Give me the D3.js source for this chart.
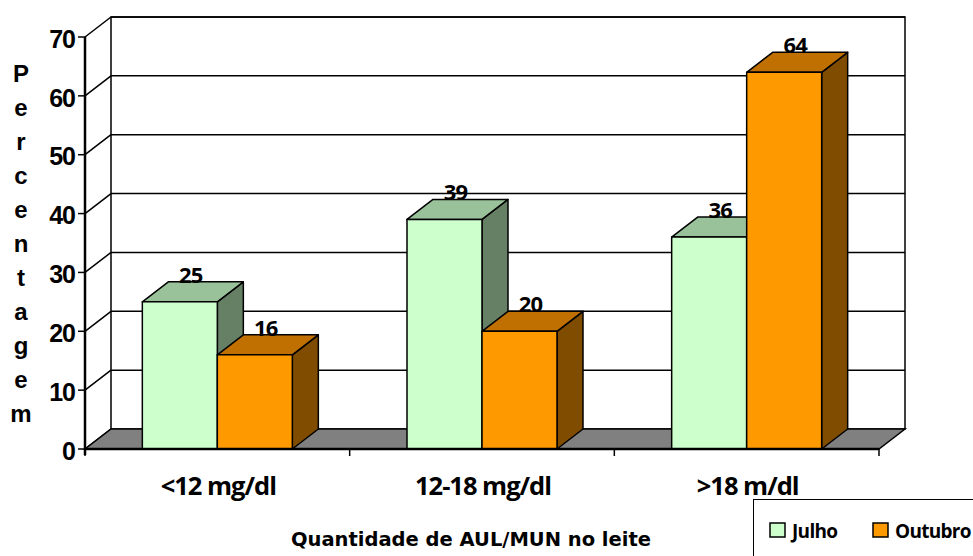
<!DOCTYPE html>
<html>
<head>
<meta charset="utf-8">
<script src="https://cdn.jsdelivr.net/npm/d3@7"></script>
<style>
  body { margin: 0; background: #fff; }
  svg { display: block; }
</style>
</head>
<body>
<div id="chart"></div>
<script>
// data
const categories = ["<12 mg/dl", "12-18 mg/dl", ">18 m/dl"];
const seriesNames = ["Julho", "Outubro"];
const julho = [25, 39, 36];
const outubro = [16, 20, 64];
const yTicks = [0, 10, 20, 30, 40, 50, 60, 70];

const width = 973, height = 556;
const depthX = 26, depthY = -20; // 3d offset of the back wall
const labelFont = "'Open Sans', 'Noto Sans', sans-serif";

const colors = {
  Julho:   { front: "#CCFFCC", top: "#9AC29A", side: "#668066" },
  Outubro: { front: "#FF9900", top: "#C07000", side: "#804D00" }
};

const svg = d3.select("#chart").append("svg")
  .attr("width", width)
  .attr("height", height);

const x = d3.scaleBand().domain(categories).range([85, 879]).padding(0);
const groupW = 150;
const xs = d3.scaleBand().domain(seriesNames).range([0, groupW]);
const y = d3.scaleLinear().domain([0, 70]).range([449, 37]);

const x0 = x.range()[0], x1 = x.range()[1];
const yBase = y(0);

// back wall
svg.append("rect")
  .attr("x", x0 + depthX).attr("y", y(70) + depthY)
  .attr("width", x1 - x0).attr("height", y(0) - y(70))
  .attr("fill", "#fff").attr("stroke", "#000").attr("stroke-width", 1.5);

// gridlines on back wall + left wall diagonals
const grid = svg.append("g").attr("stroke", "#000").attr("stroke-width", 1.5);
yTicks.filter(d => d > 0).forEach(t => {
  grid.append("line")
    .attr("x1", x0 + depthX).attr("x2", x1 + depthX)
    .attr("y1", y(t) + depthY).attr("y2", y(t) + depthY);
});
yTicks.forEach(t => {
  grid.append("line")
    .attr("x1", x0).attr("x2", x0 + depthX)
    .attr("y1", y(t)).attr("y2", y(t) + depthY);
});

// floor
svg.append("path")
  .attr("d", d3.line()([
    [x0, yBase], [x1, yBase], [x1 + depthX, yBase + depthY], [x0 + depthX, yBase + depthY]
  ]) + "Z")
  .attr("fill", "#808080").attr("stroke", "#000").attr("stroke-width", 1.5);

// bars
const rows = categories.map((c, i) => ({ cat: c, values: [
  { name: "Julho", value: julho[i] },
  { name: "Outubro", value: outubro[i] }
]}));

rows.forEach(r => {
  const gx = x(r.cat) + (x.bandwidth() - groupW) / 2;
  r.values.forEach(v => {
    const bx = gx + xs(v.name);
    const bw = xs.bandwidth();
    const top = y(v.value);
    const c = colors[v.name];
    const g = svg.append("g").attr("stroke", "#000").attr("stroke-width", 1.5).attr("stroke-linejoin", "round");
    // side face
    g.append("path")
      .attr("d", d3.line()([[bx + bw, top], [bx + bw + depthX, top + depthY], [bx + bw + depthX, yBase + depthY], [bx + bw, yBase]]) + "Z")
      .attr("fill", c.side);
    // top face
    g.append("path")
      .attr("d", d3.line()([[bx, top], [bx + depthX, top + depthY], [bx + bw + depthX, top + depthY], [bx + bw, top]]) + "Z")
      .attr("fill", c.top);
    // front
    g.append("rect")
      .attr("x", bx).attr("y", top).attr("width", bw).attr("height", yBase - top)
      .attr("fill", c.front);
    // value label
    svg.append("text")
      .attr("x", bx + bw / 2 + depthX / 2 - 2)
      .attr("y", top + depthY + 1)
      .attr("text-anchor", "middle")
      .attr("font-family", labelFont)
      .attr("font-weight", 700)
      .attr("font-size", 22)
      .attr("letter-spacing", -0.8)
      .text(v.value);
  });
});

// front floor edge + y axis line
svg.append("line").attr("x1", x0).attr("x2", x1).attr("y1", yBase).attr("y2", yBase)
  .attr("stroke", "#000").attr("stroke-width", 2.5);
svg.append("line").attr("x1", x0).attr("x2", x0).attr("y1", y(70)).attr("y2", yBase + 6)
  .attr("stroke", "#000").attr("stroke-width", 2.5);

// y ticks
const yAxis = svg.append("g");
yTicks.forEach(t => {
  yAxis.append("line").attr("x1", x0 - 7).attr("x2", x0).attr("y1", y(t)).attr("y2", y(t))
    .attr("stroke", "#000").attr("stroke-width", 1.5);
  yAxis.append("text")
    .attr("x", 75).attr("y", y(t) + 2)
    .attr("dy", "0.35em")
    .attr("text-anchor", "end")
    .attr("font-family", "Liberation Sans, Arial, sans-serif")
    .attr("font-weight", "bold")
    .attr("font-size", 25)
    .attr("letter-spacing", -1)
    .text(t);
});

// x ticks
const xTickPos = [x0, ...categories.slice(1).map(c => x(c)), x1];
xTickPos.forEach(p => {
  svg.append("line").attr("x1", p).attr("x2", p).attr("y1", yBase).attr("y2", yBase + 7)
    .attr("stroke", "#000").attr("stroke-width", 1.5);
});

// category labels
categories.forEach(c => {
  svg.append("text")
    .attr("x", x(c) + x.bandwidth() / 2 + 1)
    .attr("y", 495)
    .attr("text-anchor", "middle")
    .attr("font-family", labelFont)
    .attr("font-weight", 700)
    .attr("font-size", 25.5)
    .attr("letter-spacing", -1)
    .text(c);
});

// y title, stacked letters
const yTitle = "Percentagem".split("");
yTitle.forEach((ch, i) => {
  svg.append("text")
    .attr("x", 21)
    .attr("y", 82 + i * 34)
    .attr("text-anchor", "middle")
    .attr("font-family", "Liberation Sans, Arial, sans-serif")
    .attr("font-weight", "bold")
    .attr("font-size", 24)
    .text(ch);
});

// x title
svg.append("text")
  .attr("x", 471).attr("y", 546)
  .attr("text-anchor", "middle")
  .attr("font-family", "DejaVu Sans, Verdana, sans-serif")
  .attr("font-weight", "bold")
  .attr("font-size", 19.5)
  .text("Quantidade de AUL/MUN no leite");

// legend
const legend = svg.append("g");
legend.append("rect")
  .attr("x", 753.5).attr("y", 499.5).attr("width", 260).attr("height", 100)
  .attr("fill", "#fff").attr("stroke", "#000").attr("stroke-width", 1);
const legendX = [770, 873];
seriesNames.forEach((s, i) => {
  legend.append("rect")
    .attr("x", legendX[i]).attr("y", 523).attr("width", 15).attr("height", 14)
    .attr("fill", colors[s].front).attr("stroke", "#000").attr("stroke-width", 1.5);
  legend.append("text")
    .attr("x", legendX[i] + 22).attr("y", 538)
    .attr("font-family", labelFont)
    .attr("font-weight", 700)
    .attr("font-size", 19)
    .attr("letter-spacing", -0.7)
    .text(s);
});
</script>
</body>
</html>
